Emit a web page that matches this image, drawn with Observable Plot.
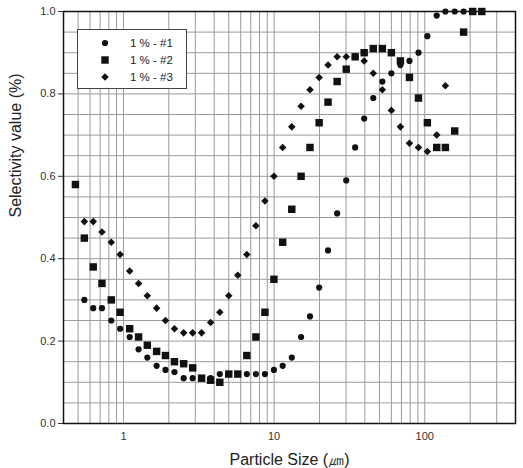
<!DOCTYPE html>
<html><head><meta charset="utf-8">
<script src="https://cdn.jsdelivr.net/npm/d3@7"></script>
<script src="https://cdn.jsdelivr.net/npm/@observablehq/plot@0.6"></script>
<style>
body{margin:0;background:#fff;font-family:"Liberation Sans",Arial,sans-serif;}
#wrap{position:relative;width:523px;height:468px;}
</style></head><body><div id="wrap"></div>
<script>
// Particle size grid (µm)
const sizes = [0.48,0.55,0.63,0.72,0.83,0.95,1.10,1.26,1.44,1.66,1.90,2.18,2.51,2.88,3.30,3.79,4.36,5.00,5.74,6.59,7.57,8.69,9.97,11.4,13.1,15.1,17.3,19.9,22.8,26.2,30.1,34.5,39.6,45.5,52.3,60.0,68.9,79.1,90.8,104,120,137,158,181,208,239];
const sel1 = [null,0.30,0.28,0.28,0.25,0.23,0.21,0.18,0.16,0.14,0.13,0.125,0.11,0.11,0.11,0.11,0.12,0.12,0.12,0.12,0.12,0.12,0.13,0.14,0.16,0.21,0.26,0.33,0.42,0.51,0.59,0.67,0.74,0.79,0.83,0.85,0.87,0.88,0.90,0.94,0.99,1.0,1.0,1.0,null,null];
const sel2 = [0.58,0.45,0.38,0.34,0.30,0.27,0.23,0.21,0.19,0.175,0.165,0.15,0.145,0.135,0.11,0.105,0.10,0.12,0.12,0.165,0.21,0.27,0.35,0.44,0.52,0.60,0.67,0.73,0.78,0.83,0.86,0.89,0.90,0.91,0.91,0.90,0.88,0.84,0.79,0.73,0.67,0.67,0.71,0.95,1.0,1.0];
const sel3 = [null,0.49,0.49,0.465,0.44,0.41,0.37,0.34,0.31,0.28,0.25,0.23,0.22,0.22,0.22,0.245,0.27,0.31,0.36,0.41,0.48,0.54,0.60,0.67,0.72,0.77,0.81,0.84,0.87,0.89,0.89,0.89,0.88,0.85,0.81,0.76,0.72,0.68,0.67,0.66,0.70,0.82,null,null,null,null];
const seriesNames = ["1 % - #1","1 % - #2","1 % - #3"];
const xTicks = [1,10,100];
const yTicks = [0,0.2,0.4,0.6,0.8,1.0];
const xGrid = [0.5,0.6,0.7,0.8,0.9,1,2,3,4,5,6,7,8,9,10,20,30,40,50,60,70,80,90,100,200,300];
const yGrid = [0.05,0.1,0.15,0.2,0.25,0.3,0.35,0.4,0.45,0.5,0.55,0.6,0.65,0.7,0.75,0.8,0.85,0.9,0.95];
const xLabel = "Particle Size (㎛)";
const yLabel = "Selectivity value (%)";

const toRows = (vals) => sizes.map((s,i)=>({x:s,y:vals[i]})).filter(d=>d.y!=null);
const r1 = toRows(sel1), r2 = toRows(sel2), r3 = toRows(sel3);

const ink = "#111";
const plot = Plot.plot({
  width: 523, height: 468,
  marginLeft: 63, marginRight: 8, marginTop: 11, marginBottom: 45,
  style: {fontFamily: '"Liberation Sans", Arial, sans-serif', fontSize: "11px", color: "#333", background: "#fff"},
  x: {type: "log", domain: [0.4, 400], ticks: xTicks, tickFormat: d => String(d), tickSize: 0, tickPadding: 9, label: null},
  y: {domain: [0, 1], ticks: yTicks, tickFormat: d3.format(".1f"), tickSize: 5, tickPadding: 3, label: null},
  marks: [
    Plot.ruleX(xGrid, {stroke: "#9a9a9a", strokeWidth: 1}),
    Plot.ruleY(yGrid, {stroke: "#9a9a9a", strokeWidth: 1}),
    Plot.dot(r1, {x: "x", y: "y", symbol: "circle", r: 3.1, fill: ink, stroke: "none"}),
    Plot.dot(r2, {x: "x", y: "y", symbol: "square", r: 4.2, fill: ink, stroke: "none"}),
    Plot.dot(r3, {x: "x", y: "y", symbol: "diamond2", r: 3.4, fill: ink, stroke: "none"}),
    Plot.frame({stroke: "#111", strokeWidth: 1.5}),
    Plot.text([xLabel], {frameAnchor: "bottom", dy: 36, fontSize: 16, fill: "#222", lineAnchor: "middle"}),
    Plot.text([yLabel], {frameAnchor: "left", dx: -48, rotate: -90, fontSize: 16, fill: "#222", lineAnchor: "middle"})
  ]
});
document.getElementById("wrap").appendChild(plot);

// Legend
const svg = d3.select(plot);
const lg = svg.append("g");
lg.append("rect").attr("x", 77.5).attr("y", 29.5).attr("width", 109).attr("height", 59)
  .attr("fill", "#fff").attr("stroke", "#444").attr("stroke-width", 1);
const syms = [d3.symbolCircle, d3.symbolSquare, d3.symbolDiamond2];
const rs = [3.1, 4.2, 3.4];
seriesNames.forEach((name, i) => {
  const cy = 43 + i * 17;
  lg.append("path").attr("transform", `translate(105,${cy})`)
    .attr("d", d3.symbol(syms[i], Math.PI * rs[i] * rs[i])()).attr("fill", ink);
  lg.append("text").attr("x", 130).attr("y", cy).attr("dy", "0.35em")
    .attr("text-anchor", "start")
    .attr("font-size", 11.5).attr("fill", "#222").text(name);
});
</script></body></html>
